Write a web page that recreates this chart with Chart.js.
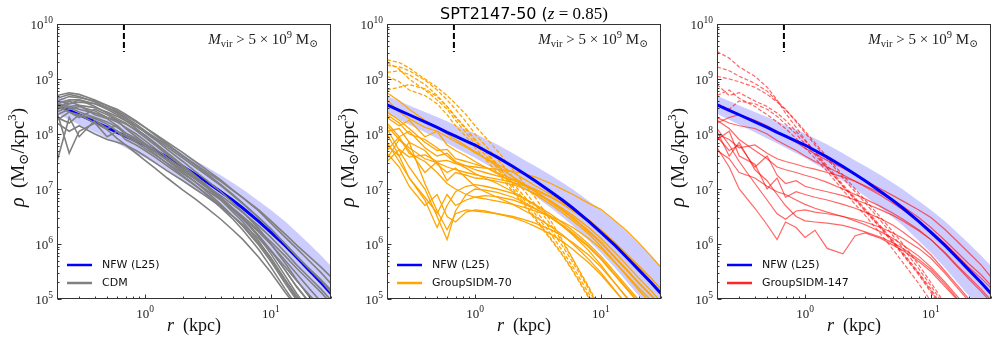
<!DOCTYPE html>
<html><head><meta charset="utf-8">
<script src="https://cdn.jsdelivr.net/npm/chart.js@4/dist/chart.umd.min.js"></script>
<style>
html,body{margin:0;padding:0;background:#fff;}
body{width:997px;height:345px;position:relative;overflow:hidden;}
canvas{position:absolute;left:0;top:0;}
</style>
</head><body>
<canvas id="c1" width="997" height="345"></canvas>
<canvas id="c2" width="997" height="345"></canvas>
<canvas id="c3" width="997" height="345"></canvas>
<script>
// ---------------- DATA (log10 of density in Msun/kpc^3) ----------------
const radii = [0.2,0.25,0.3,0.4,0.5,0.6,0.7,0.85,1,1.2,1.5,2,2.5,3,4,5,6,8,10,13,16,20,25,30];

const nfwLog    = [8.53,8.43,8.35,8.22,8.12,8.03,7.96,7.87,7.80,7.70,7.58,7.41,7.27,7.15,6.95,6.79,6.65,6.41,6.21,5.97,5.76,5.53,5.30,5.10];
const bandHiLog = [8.69,8.60,8.52,8.40,8.31,8.23,8.16,8.08,8.01,7.92,7.81,7.65,7.52,7.42,7.25,7.11,6.99,6.78,6.62,6.41,6.22,6.01,5.79,5.60];
const bandLoLog = [8.37,8.26,8.17,8.03,7.92,7.83,7.75,7.65,7.57,7.46,7.33,7.15,7.00,6.87,6.66,6.48,6.33,6.06,5.84,5.56,5.32,5.06,4.82,4.60];

const cdmLog = [
 [8.70,8.75,8.72,8.62,8.52,8.42,8.33,8.22,8.12,8.00,7.85,7.66,7.50,7.37,7.16,6.98,6.84,6.60,6.38,6.12,5.92,5.70,5.48,5.28],
 [8.60,8.68,8.66,8.60,8.52,8.45,8.36,8.24,8.12,7.98,7.82,7.60,7.44,7.30,7.08,6.90,6.74,6.48,6.27,6.00,5.78,5.55,5.33,5.12],
 [8.45,8.55,8.58,8.55,8.48,8.40,8.30,8.18,8.06,7.94,7.80,7.60,7.45,7.33,7.14,6.97,6.84,6.62,6.42,6.18,5.98,5.78,5.58,5.40],
 [8.55,8.62,8.62,8.55,8.45,8.35,8.25,8.10,7.97,7.83,7.64,7.40,7.22,7.06,6.80,6.58,6.40,6.05,5.75,5.35,5.05,4.80,4.60,4.40],
 [7.50,8.30,7.95,8.25,8.10,8.15,8.02,7.92,7.80,7.68,7.52,7.33,7.18,7.05,6.82,6.62,6.45,6.15,5.88,5.52,5.22,4.95,4.70,4.50],
 [8.40,7.65,8.05,8.20,7.95,8.05,7.90,7.80,7.70,7.58,7.42,7.22,7.06,6.93,6.70,6.50,6.33,6.02,5.72,5.32,5.02,4.75,4.50,4.30],
 [8.50,8.48,8.40,8.30,8.22,8.12,8.02,7.90,7.80,7.68,7.53,7.34,7.19,7.07,6.88,6.71,6.57,6.33,6.12,5.85,5.62,5.40,5.18,4.98],
 [8.35,8.45,8.50,8.42,8.30,8.25,8.18,8.08,7.98,7.84,7.66,7.43,7.25,7.10,6.85,6.64,6.46,6.13,5.82,5.42,5.10,4.80,4.55,4.35],
 [8.25,8.40,8.35,8.20,8.08,7.92,7.80,7.65,7.52,7.38,7.20,6.98,6.82,6.68,6.45,6.25,6.08,5.76,5.48,5.12,4.85,4.60,4.40,4.20],
 [8.65,8.72,8.68,8.58,8.48,8.38,8.28,8.15,8.03,7.90,7.72,7.50,7.32,7.18,6.95,6.75,6.58,6.28,6.00,5.65,5.35,5.05,4.80,4.60],
 [8.30,8.20,8.35,8.28,8.18,8.05,7.96,7.85,7.74,7.62,7.47,7.28,7.13,7.00,6.80,6.62,6.47,6.22,5.99,5.70,5.46,5.20,4.95,4.75],
 [8.55,8.50,8.45,8.38,8.30,8.22,8.12,8.00,7.88,7.74,7.57,7.36,7.20,7.06,6.84,6.65,6.50,6.25,6.04,5.78,5.56,5.34,5.12,4.92],
 [8.45,8.60,8.52,8.35,8.28,8.15,7.98,7.88,7.78,7.64,7.46,7.24,7.07,6.92,6.66,6.45,6.25,5.90,5.58,5.18,4.88,4.60,4.40,4.20],
 [8.40,8.50,8.52,8.48,8.40,8.32,8.24,8.14,8.04,7.92,7.76,7.56,7.40,7.27,7.06,6.88,6.73,6.48,6.27,6.00,5.78,5.56,5.35,5.16],
 [8.60,8.55,8.62,8.50,8.38,8.28,8.20,8.06,7.94,7.80,7.62,7.40,7.23,7.08,6.84,6.63,6.46,6.15,5.88,5.52,5.23,4.95,4.70,4.50],
 [8.20,8.05,8.15,8.00,7.90,7.85,7.80,7.70,7.60,7.48,7.33,7.15,7.00,6.88,6.68,6.50,6.35,6.10,5.88,5.58,5.33,5.08,4.85,4.65],
 [8.50,8.40,8.30,8.45,8.35,8.25,8.10,7.95,7.83,7.70,7.52,7.30,7.13,6.98,6.72,6.50,6.32,5.98,5.68,5.28,4.98,4.70,4.50,4.30]
];

const sidm70SolidLog = [
 [7.50,7.72,7.58,7.62,7.50,7.52,7.46,7.42,7.40,7.38,7.36,7.32,7.27,7.22,7.10,6.99,6.90,6.74,6.63,6.42,6.24,6.02,5.78,5.57],
 [8.75,8.60,8.45,8.25,8.12,8.00,7.90,7.78,7.68,7.56,7.42,7.22,7.08,6.96,6.76,6.60,6.46,6.22,6.02,5.74,5.52,5.28,5.06,4.88],
 [8.62,8.40,8.28,8.12,8.05,7.95,7.86,7.76,7.66,7.56,7.45,7.30,7.17,7.06,6.90,6.76,6.64,6.44,6.26,6.02,5.82,5.60,5.38,5.18],
 [8.30,8.15,8.25,7.95,8.05,7.80,7.70,7.60,7.50,7.40,7.28,7.12,7.00,6.90,6.72,6.56,6.42,6.18,5.96,5.66,5.42,5.16,4.92,4.72],
 [8.10,7.70,7.40,7.00,6.50,6.08,6.60,6.90,7.00,6.98,6.94,6.85,6.75,6.65,6.48,6.32,6.18,5.94,5.72,5.42,5.18,4.92,4.70,4.50],
 [7.85,7.50,7.20,6.80,6.30,6.70,6.95,7.05,7.08,7.05,7.00,6.92,6.82,6.72,6.54,6.38,6.24,6.00,5.78,5.48,5.24,4.98,4.75,4.55],
 [8.00,7.60,7.20,6.85,6.56,6.90,6.70,6.80,6.85,6.88,6.86,6.80,6.72,6.64,6.48,6.34,6.20,5.96,5.74,5.44,5.20,4.94,4.72,4.52],
 [7.55,7.90,7.70,7.30,7.50,7.15,7.30,7.25,7.20,7.18,7.14,7.08,7.00,6.92,6.78,6.64,6.52,6.30,6.10,5.84,5.62,5.38,5.15,4.95],
 [8.20,7.95,8.05,7.75,7.60,7.65,7.50,7.42,7.35,7.30,7.24,7.16,7.08,7.00,6.86,6.73,6.62,6.42,6.25,6.02,5.82,5.60,5.38,5.18],
 [7.80,7.60,7.85,7.10,6.60,6.26,6.55,6.62,6.60,6.58,6.55,6.50,6.44,6.38,6.26,6.14,6.02,5.80,5.58,5.28,5.04,4.78,4.56,4.36],
 [8.05,8.10,7.85,7.70,7.45,7.30,7.38,7.20,7.05,6.95,6.85,6.72,6.60,6.50,6.32,6.16,6.00,5.72,5.48,5.15,4.90,4.65,4.40,4.20],
 [8.35,8.20,8.00,7.90,7.75,7.60,7.48,7.38,7.28,7.20,7.10,6.95,6.82,6.70,6.50,6.32,6.16,5.88,5.62,5.28,5.02,4.75,4.50,4.30],
 [7.65,7.40,7.05,6.70,6.90,6.50,6.40,6.58,6.62,6.60,6.55,6.48,6.40,6.32,6.18,6.04,5.90,5.66,5.44,5.14,4.90,4.65,4.45,4.25],
 [8.15,7.90,7.75,7.55,7.48,7.40,7.35,7.30,7.26,7.22,7.18,7.12,7.05,6.98,6.85,6.72,6.60,6.40,6.22,5.98,5.76,5.52,5.28,5.08],
 [8.40,8.25,8.10,7.85,7.70,7.72,7.55,7.50,7.45,7.40,7.30,7.18,7.06,6.96,6.78,6.62,6.48,6.24,6.04,5.76,5.54,5.30,5.08,4.88],
 [7.70,7.95,7.65,7.50,7.30,7.10,7.00,6.90,6.85,6.82,6.78,6.72,6.66,6.60,6.50,6.40,6.30,6.10,5.92,5.66,5.44,5.20,4.98,4.78]
];
const sidm70DashedLog = [
 [9.35,9.30,9.20,9.00,8.85,8.70,8.55,8.35,8.15,7.95,7.70,7.35,7.08,6.85,6.42,6.05,5.72,5.20,4.75,4.30,4.00,3.80,3.60,3.40],
 [9.25,9.22,9.15,8.98,8.80,8.62,8.45,8.22,8.00,7.80,7.55,7.22,6.95,6.72,6.35,6.02,5.72,5.22,4.80,4.40,4.10,3.90,3.70,3.50],
 [9.12,9.15,9.08,8.90,8.70,8.50,8.32,8.10,7.90,7.70,7.45,7.05,6.78,6.55,6.18,5.86,5.58,5.10,4.70,4.30,4.00,3.80,3.60,3.40],
 [9.30,9.18,9.00,8.80,8.62,8.45,8.25,8.02,7.82,7.62,7.38,7.00,6.72,6.48,6.10,5.80,5.52,5.04,4.62,4.25,3.95,3.75,3.55,3.35],
 [8.80,8.85,8.90,8.82,8.68,8.50,8.30,8.08,7.88,7.68,7.42,7.10,6.85,6.62,6.26,5.95,5.66,5.18,4.75,4.35,4.05,3.85,3.65,3.45],
 [9.05,8.95,8.80,8.70,8.55,8.35,8.15,7.95,7.75,7.55,7.30,6.95,6.68,6.45,6.08,5.78,5.50,5.02,4.60,4.20,3.90,3.70,3.50,3.30]
];

const sidm147SolidLog = [
 [8.20,8.30,8.35,8.25,8.15,8.05,7.95,7.85,7.74,7.64,7.52,7.38,7.26,7.16,7.00,6.88,6.78,6.62,6.48,6.26,6.06,5.84,5.62,5.40],
 [8.00,7.90,7.75,7.80,7.65,7.55,7.50,7.45,7.40,7.36,7.30,7.22,7.14,7.06,6.92,6.80,6.68,6.48,6.30,6.06,5.86,5.64,5.44,5.25],
 [7.75,7.40,7.00,6.65,6.35,6.08,6.40,6.30,6.12,6.25,5.92,5.82,6.15,6.20,6.10,5.98,5.88,5.68,5.50,5.22,5.00,4.75,4.50,4.30],
 [8.10,7.80,7.50,7.10,6.80,6.55,6.45,6.60,6.62,6.58,6.55,6.50,6.45,6.40,6.30,6.20,6.10,5.92,5.74,5.46,5.22,4.96,4.72,4.50],
 [7.90,8.05,7.60,7.45,7.00,7.20,6.85,6.95,6.90,6.85,6.80,6.72,6.65,6.58,6.46,6.34,6.22,6.00,5.80,5.50,5.26,5.00,4.75,4.55],
 [8.25,8.10,7.90,7.70,7.55,7.40,7.35,7.30,7.25,7.20,7.12,7.00,6.90,6.82,6.68,6.56,6.45,6.26,6.08,5.82,5.60,5.36,5.14,4.94],
 [7.95,7.70,7.80,7.40,7.60,7.25,7.10,7.15,7.05,7.00,6.95,6.88,6.80,6.74,6.62,6.52,6.42,6.24,6.08,5.84,5.62,5.40,5.18,4.98],
 [8.30,8.20,8.15,8.10,8.00,7.88,7.80,7.70,7.60,7.50,7.40,7.26,7.14,7.04,6.88,6.74,6.62,6.42,6.24,6.00,5.80,5.58,5.38,5.20],
 [7.70,7.55,7.30,7.20,7.05,6.95,6.90,6.80,6.72,6.65,6.58,6.50,6.42,6.35,6.22,6.10,5.98,5.78,5.58,5.30,5.06,4.82,4.60,4.40],
 [8.05,7.60,7.85,7.35,7.15,6.90,6.70,6.50,6.42,6.40,6.38,6.34,6.28,6.22,6.12,6.02,5.92,5.72,5.54,5.26,5.02,4.78,4.55,4.35]
];
const sidm147DashedLog = [
 [9.50,9.38,9.22,9.05,8.85,8.62,8.38,8.12,7.90,7.66,7.38,7.05,6.80,6.60,6.28,6.02,5.80,5.44,5.12,4.72,4.40,4.10,3.80,3.50],
 [9.22,9.15,9.05,8.92,8.78,8.60,8.45,8.22,8.02,7.80,7.55,7.20,6.95,6.75,6.42,6.15,5.92,5.55,5.24,4.85,4.50,4.20,3.90,3.60],
 [9.05,9.00,8.95,8.85,8.72,8.58,8.44,8.24,8.05,7.84,7.58,7.25,7.00,6.80,6.48,6.22,6.00,5.62,5.30,4.90,4.55,4.25,3.95,3.65],
 [8.90,8.70,8.75,8.60,8.50,8.38,8.25,8.05,7.88,7.68,7.42,7.08,6.84,6.64,6.32,6.06,5.84,5.48,5.18,4.78,4.45,4.15,3.85,3.55],
 [8.55,8.45,8.60,8.55,8.45,8.32,8.18,8.00,7.82,7.62,7.38,7.05,6.82,6.62,6.30,6.04,5.82,5.46,5.15,4.75,4.42,4.12,3.82,3.52],
 [8.70,8.80,8.65,8.50,8.35,8.22,8.10,7.92,7.75,7.56,7.32,6.98,6.72,6.52,6.18,5.90,5.66,5.28,4.96,4.55,4.20,3.90,3.60,3.30]
];

const rLimit = 0.68;            // vertical dashed marker (kpc)
const rLimitSpan = [1e10, 3.1e9];
const xRange = [0.2, 30];
const yRange = [1e5, 1e10];
const xMajorTicks = [1, 10];
const yMajorTicks = [1e5, 1e6, 1e7, 1e8, 1e9, 1e10];
const nfwLabel = 'NFW (L25)';
const panelLabels = ['CDM', 'GroupSIDM-70', 'GroupSIDM-147'];
const titleText = 'SPT2147-50';

// ---------------- drawing helpers ----------------
const SERIF = '"Liberation Serif","DejaVu Serif",serif';
const SANS = '"DejaVu Sans","Liberation Sans",sans-serif';
const pts = logs => radii.map((r, i) => ({x: r, y: Math.pow(10, logs[i])}));

function seg(t, size, opt) {
  opt = opt || {};
  return {t, font: `${opt.style || ''} ${size}px ${opt.family || SERIF}`, dy: opt.dy || 0};
}
function drawMixed(ctx, segs, x, y, align) {
  let w = 0;
  for (const s of segs) { ctx.font = s.font; s.w = ctx.measureText(s.t).width; w += s.w; }
  let cx = align === 'center' ? x - w / 2 : align === 'right' ? x - w : x;
  ctx.textAlign = 'left'; ctx.textBaseline = 'alphabetic';
  for (const s of segs) { ctx.font = s.font; ctx.fillText(s.t, cx, y + s.dy); cx += s.w; }
}
function powLabel(v) { return Math.round(Math.log10(v)).toString(); }

const decor = {
  id: 'decor',
  afterDraw(chart, args, opts) {
    const {ctx, chartArea: a} = chart;
    const xs = chart.scales.x, ys = chart.scales.y;
    ctx.save();
    ctx.fillStyle = '#222';
    ctx.strokeStyle = '#333';
    ctx.lineWidth = 1;
    const L = Math.round(a.left) + 0.5, R = Math.round(a.right) - 0.5;
    const T = Math.round(a.top) + 0.5, B = Math.round(a.bottom) - 0.5;
    ctx.strokeRect(L, T, R - L, B - T);
    ctx.beginPath();
    for (let d = -1; d <= 1; d++) for (let m = 1; m <= 9; m++) {
      const v = m * Math.pow(10, d);
      if (v < xRange[0] || v > xRange[1]) continue;
      const px = Math.round(xs.getPixelForValue(v)) + 0.5;
      const len = m === 1 ? 4 : 2;
      ctx.moveTo(px, B); ctx.lineTo(px, B - len);
    }
    for (let d = 5; d <= 10; d++) for (let m = 1; m <= 9; m++) {
      const v = m * Math.pow(10, d);
      if (v < yRange[0] || v > yRange[1]) continue;
      const py = Math.round(ys.getPixelForValue(v)) + 0.5;
      const len = m === 1 ? 4 : 2;
      ctx.moveTo(L, py); ctx.lineTo(L + len, py);
    }
    ctx.stroke();
    for (const v of xMajorTicks) {
      const px = xs.getPixelForValue(v);
      drawMixed(ctx, [seg('10', 13), seg(powLabel(v), 9.5, {dy: -6})], px, a.bottom + 19, 'center');
    }
    for (const v of yMajorTicks) {
      const py = ys.getPixelForValue(v);
      drawMixed(ctx, [seg('10', 13), seg(powLabel(v), 9.5, {dy: -6})], a.left - 4, py + 5, 'right');
    }
    const cx = (a.left + a.right) / 2;
    ctx.fillStyle = '#111';
    drawMixed(ctx, [seg('r', 18, {style: 'italic'}), seg('  (kpc)', 18)], cx, 331, 'center');
    ctx.save();
    ctx.translate(a.left - 33, (a.top + a.bottom) / 2 - 4);
    ctx.rotate(-Math.PI / 2);
    drawMixed(ctx, [seg('ρ', 20, {style: 'italic'}), seg('  (M', 19), seg('⊙', 13.5, {dy: 4}),
      seg('/kpc', 19), seg('3', 13, {dy: -8}), seg(')', 19)], 0, 0, 'center');
    ctx.restore();
    ctx.fillStyle = '#222';
    drawMixed(ctx, [seg('M', 15, {style: 'italic'}), seg('vir', 10.5, {dy: 3}), seg(' > 5 × 10', 15),
      seg('9', 10.5, {dy: -6}), seg(' M', 15), seg('⊙', 10.5, {dy: 3})], a.right - 13, 44, 'right');
    const lx = a.left + 10;
    const rows = [{c: '#0000ff', w: 2.5, t: nfwLabel}, {c: opts.color, w: 2.5, t: opts.label}];
    rows.forEach((r, i) => {
      const yy = 265 + i * 18;
      ctx.strokeStyle = r.c; ctx.lineWidth = r.w;
      ctx.beginPath(); ctx.moveTo(lx, yy); ctx.lineTo(lx + 25, yy); ctx.stroke();
      ctx.fillStyle = '#111';
      ctx.font = `11px ${SANS}`; ctx.textAlign = 'left'; ctx.textBaseline = 'middle';
      ctx.fillText(r.t, lx + 35, yy);
    });
    if (opts.title) {
      ctx.fillStyle = '#000';
      drawMixed(ctx, [seg(titleText + ' (', 16, {family: SANS}), seg('z', 17, {style: 'italic'}),
        seg(' = 0.85)', 17)], cx, 19, 'center');
    }
    ctx.restore();
  }
};

function makePanel(id, left, solids, dashed, color, width, label, nfwOnTop, title) {
  const ds = [];
  ds.push({data: pts(bandLoLog), borderWidth: 0, pointRadius: 0, fill: false, order: 100, borderColor: 'rgba(0,0,0,0)'});
  ds.push({data: pts(bandHiLog), borderWidth: 0, pointRadius: 0, fill: 0, order: 99,
    borderColor: 'rgba(0,0,0,0)', backgroundColor: 'rgba(0,0,255,0.2)'});
  for (const s of solids) ds.push({data: pts(s), borderColor: color, borderWidth: width, pointRadius: 0, fill: false, order: 20});
  for (const s of dashed) ds.push({data: pts(s), borderColor: color, borderWidth: width, borderDash: [4, 2], pointRadius: 0, fill: false, order: 20});
  ds.push({data: pts(nfwLog), borderColor: '#0000ff', borderWidth: 3, pointRadius: 0, fill: false, order: nfwOnTop ? 5 : 50});
  ds.push({data: [{x: rLimit, y: rLimitSpan[0]}, {x: rLimit, y: rLimitSpan[1]}], borderColor: '#000', borderWidth: 2,
    borderDash: [6, 3], pointRadius: 0, fill: false, order: 1});
  return new Chart(document.getElementById(id), {
    type: 'line',
    data: {datasets: ds},
    options: {
      responsive: false, animation: false, devicePixelRatio: 1, events: [],
      layout: {padding: {left: left, right: 997 - (left + 274), top: 24, bottom: 46}},
      elements: {line: {tension: 0}},
      scales: {
        x: {type: 'logarithmic', min: xRange[0], max: xRange[1], display: false},
        y: {type: 'logarithmic', min: yRange[0], max: yRange[1], display: false}
      },
      plugins: {legend: {display: false}, tooltip: {enabled: false},
        decor: {color: color.startsWith('rgba') ? 'rgba(255,0,0,0.85)' : color, label: label, title: title}}
    },
    plugins: [decor]
  });
}

makePanel('c1', 57, cdmLog, [], '#808080', 1.6, panelLabels[0], false, false);
makePanel('c2', 387, sidm70SolidLog, sidm70DashedLog, '#ffa500', 1.3, panelLabels[1], true, true);
makePanel('c3', 717, sidm147SolidLog, sidm147DashedLog, 'rgba(255,0,0,0.6)', 1.2, panelLabels[2], true, false);
</script>
</body></html>
